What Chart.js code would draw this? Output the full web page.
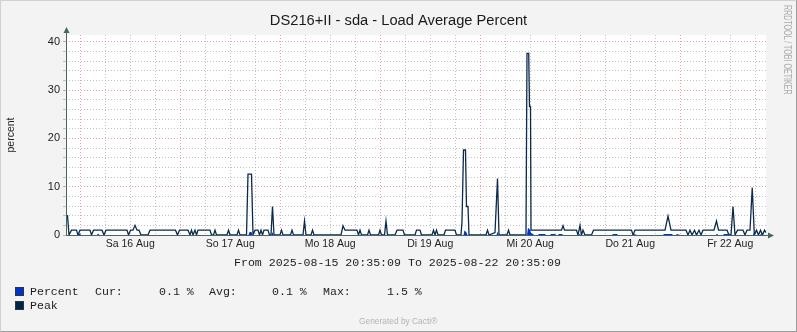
<!DOCTYPE html>
<html lang="de">
<head>
<meta charset="UTF-8">
<title>DS216+II - sda - Load Average Percent</title>
<script src="https://cdn.jsdelivr.net/npm/chart.js@4.4.7/dist/chart.umd.min.js"></script>
<style>
  * { margin: 0; padding: 0; box-sizing: border-box; }
  body { background: #f3f3f3; width: 797px; height: 332px; overflow: hidden; font-family: 'Liberation Sans', Arial, sans-serif; }
  .wrap { position: relative; width: 797px; height: 332px; }
  canvas { position: absolute; left: 0; top: 0; }
  .frame {
    position: absolute; left: 0; top: 0; width: 797px; height: 332px;
    border: 1px solid #d2d2d2; border-right-color: #9c9c9c; border-bottom-color: #9c9c9c;
    pointer-events: none;
  }
  .mono { position: absolute; font-family: 'Liberation Mono', 'DejaVu Sans Mono', monospace; font-size: 11.6px; line-height: 12px; color: #1e1e1e; white-space: pre; }
  .sq { position: absolute; width: 9px; height: 9px; border: 1px solid #30343c; }
  .credit { position: absolute; left: 359px; top: 316px; font-size: 8.4px; color: #b4b4b4; white-space: nowrap; }
  .rrd {
    position: absolute; left: 782px; top: 5px; writing-mode: vertical-rl;
    font-size: 10px; line-height: 10px; color: #ababab; white-space: nowrap;
    transform: scale(1, 0.71); transform-origin: top left;
  }
</style>
</head>
<body>
<div class="wrap">
  <canvas id="chart" width="797" height="332"></canvas>

  <div class="mono" style="left:234px; top:257px;" id="range"></div>

  <div class="sq" style="left:15px; top:287px; background:#0033cc;"></div>
  <div class="mono" style="left:30px; top:286px;">Percent</div>
  <div class="mono" style="left:95px; top:286px;">Cur:</div>
  <div class="mono" style="left:159px; top:286px;" id="cur"></div>
  <div class="mono" style="left:209px; top:286px;">Avg:</div>
  <div class="mono" style="left:272px; top:286px;" id="avg"></div>
  <div class="mono" style="left:323px; top:286px;">Max:</div>
  <div class="mono" style="left:387px; top:286px;" id="max"></div>

  <div class="sq" style="left:15px; top:301px; background:#002548;"></div>
  <div class="mono" style="left:30px; top:300px;">Peak</div>

  <div class="credit">Generated by Cacti®</div>
  <div class="rrd">RRDTOOL / TOBI OETIKER</div>
  <div class="frame"></div>
</div>

<script>
  // time axis: hours since 2025-08-15 20:35:09
  const rangeText = 'From 2025-08-15 20:35:09 To 2025-08-22 20:35:09';
  const spanHours = 168;
  const firstMidnight = 3 + 24 / 60 + 51 / 3600;
  const dayLabels = ['Sa 16 Aug', 'So 17 Aug', 'Mo 18 Aug', 'Di 19 Aug', 'Mi 20 Aug', 'Do 21 Aug', 'Fr 22 Aug'];
  const yLabels = [0, 10, 20, 30, 40];

  const legendStats = { cur: '0.1 %', avg: '0.1 %', max: '1.5 %' };

  const peakHours = [
    0, 0.36, 0.72, 1.32, 2.52, 2.88, 3.36, 5.76, 6.12, 6.6, 8.64, 9.12, 9.6,
    14.64, 15.0, 15.48, 16.08, 16.56, 17.04, 17.52, 18.0, 19.68, 20.16,
    26.28, 26.76, 27.24, 29.28, 29.76, 30.12, 30.48, 30.96, 31.32, 31.68,
    34.56, 34.92, 35.4, 35.76, 36.12, 38.64, 39.0, 39.36, 41.04, 41.4, 41.76,
    43.32, 43.68, 44.52, 44.88, 45.36, 46.08, 46.44, 46.8, 47.16, 47.52, 48.48, 48.84,
    49.2, 49.56, 49.92, 51.36, 51.72, 52.08, 53.88, 54.24, 54.6,
    56.88, 57.24, 57.6, 58.8, 59.16, 59.52,
    66.0, 66.48, 66.96, 69.84, 70.2, 70.56, 70.92, 72.36, 72.72, 73.08,
    75.0, 75.36, 75.72, 76.44, 76.8, 77.16, 78.96, 79.44, 80.88, 81.24,
    83.76, 84.12, 84.96, 85.32, 87.84, 88.2, 88.56, 88.92, 89.28,
    90.72, 91.08, 93.36, 93.72, 94.8, 95.04, 95.4, 95.88, 96.12, 96.48, 96.72,
    100.8, 101.16, 101.52, 102.96, 103.56, 103.92, 105.84, 106.2, 106.56,
    110.4, 110.64, 111.05, 111.24, 111.48, 111.6,
    118.92, 119.28, 119.64, 122.52, 122.88, 123.36, 123.72, 124.08, 124.56,
    126.12, 126.6, 135.72, 136.08, 136.56, 143.76, 144.48, 145.2,
    148.8, 149.28, 149.76, 150.24, 150.84, 151.32, 151.92, 152.4, 152.88,
    155.52, 156.12, 156.6, 158.64, 159.12, 159.6, 160.08, 160.56, 161.16,
    162.48, 162.96, 163.44, 164.16, 164.7, 165.2, 165.72, 166.2, 166.68, 167.16, 167.64, 168
  ];
  const peakValues = [
    4, 4, 0, 1, 1, 0, 1, 1, 0, 1, 1, 0, 1,
    1, 0, 1, 1, 2, 1, 1, 0, 0, 1,
    1, 0, 1, 1, 0, 1, 0, 1, 0, 1,
    1, 0, 0, 1, 0, 0, 1, 0, 0, 1, 0,
    0, 12.6, 12.6, 0, 1, 1, 0, 1, 0, 1, 1, 0,
    0, 5.9, 0, 0, 1, 0, 0, 1, 0,
    0, 2.9, 0, 0, 1, 0,
    0, 1.9, 1, 1, 0, 1, 0, 0, 1, 0,
    0, 1, 0, 0, 2.9, 0, 0, 1, 1, 0,
    0, 1, 1, 0, 0, 1, 0, 1, 0,
    0, 1, 1, 0, 0, 2.8, 17.6, 17.6, 5.9, 5.9, 0,
    0, 1, 0, 0.5, 11.7, 0, 0, 1, 0,
    0, 37.6, 37.6, 26.6, 26.6, 1,
    1, 1.9, 1, 1, 0, 2, 0, 1, 0,
    0, 1, 1, 0, 1, 1, 3.9, 1,
    1, 0, 1, 0, 1, 0, 1, 0, 1,
    1, 2.9, 1, 1, 0, 0, 5.9, 0, 1,
    1, 0, 1, 1, 9.8, 0, 1, 0, 1, 0, 1, 0.5
  ];

  const pctHours = [
    0, 0.24, 2.64, 2.88, 3.36, 3.6, 7.44, 7.68, 8.04,
    43.8, 44.04, 44.52, 44.76, 49.32, 49.56, 49.8,
    95.4, 95.64, 96.12, 96.36, 103.32, 103.56, 103.8,
    110.64, 110.88, 111.36, 111.6, 112.08, 112.32,
    113.28, 113.52, 114.96, 115.2, 116.16, 116.4, 117.36, 117.6,
    118.08, 118.32, 119.04, 119.28, 122.88, 123.12, 123.6,
    131.04, 131.28, 132.24, 132.48, 136.08, 136.32, 137.04,
    143.28, 143.52, 145.44, 145.68, 146.4, 146.64, 147.36,
    156.0, 156.24, 156.48, 157.68, 157.92, 159.36, 159.6,
    164.88, 165.12, 165.36, 166.56, 166.8, 167.28, 168
  ];
  const pctValues = [
    0.3, 0, 0, 0.3, 0.3, 0, 0, 0.3, 0,
    0, 0.6, 0.6, 0, 0, 0.6, 0,
    0, 1.0, 0.5, 0, 0, 0.7, 0,
    0, 1.5, 1.1, 0.4, 0.2, 0,
    0, 0.2, 0.2, 0, 0, 0.2, 0.2, 0,
    0, 0.2, 0.2, 0, 0, 0.2, 0,
    0, 0.2, 0.2, 0, 0, 0.2, 0,
    0, 0.2, 0.2, 0, 0, 0.2, 0,
    0, 0.3, 0, 0, 0.2, 0.2, 0,
    0, 0.5, 0, 0, 0.2, 0, 0
  ];

  document.getElementById('range').textContent = rangeText;
  document.getElementById('cur').textContent = legendStats.cur;
  document.getElementById('avg').textContent = legendStats.avg;
  document.getElementById('max').textContent = legendStats.max;

  const toPoints = (xs, ys) => xs.map((x, i) => ({ x: x, y: ys[i] }));

  const gridRed = 'rgba(228, 120, 120, 0.7)';
  const gridGrey = 'rgba(170, 170, 170, 0.7)';
  const axisColor = '#476565';
  const isMidnight = v => Math.round((v - firstMidnight) / 6) % 4 === 0;

  // backgrounds + axis lines with arrows, like rrdtool draws them
  const rrdFrame = {
    id: 'rrdFrame',
    beforeDraw(chart) {
      const { ctx, chartArea: a } = chart;
      ctx.save();
      ctx.fillStyle = '#f3f3f3';
      ctx.fillRect(0, 0, chart.width, chart.height);
      ctx.fillStyle = '#ffffff';
      ctx.fillRect(a.left, a.top, a.right - a.left, a.bottom - a.top);
      ctx.restore();
    },
    afterDraw(chart) {
      const { ctx, chartArea: a } = chart;
      const x0 = Math.round(a.left) + 0.5;
      const y0 = Math.round(a.bottom) + 0.5;
      ctx.save();
      ctx.strokeStyle = axisColor;
      ctx.fillStyle = axisColor;
      ctx.lineWidth = 1;
      ctx.beginPath();
      ctx.moveTo(x0, y0);
      ctx.lineTo(x0, a.top - 3);
      ctx.moveTo(x0, y0);
      ctx.lineTo(a.right + 3, y0);
      ctx.stroke();
      ctx.beginPath();
      ctx.moveTo(x0 - 3, a.top - 2);
      ctx.lineTo(x0 + 3, a.top - 2);
      ctx.lineTo(x0, a.top - 8);
      ctx.closePath();
      ctx.fill();
      ctx.beginPath();
      ctx.moveTo(a.right + 2, y0 - 3);
      ctx.lineTo(a.right + 2, y0 + 3);
      ctx.lineTo(a.right + 8, y0);
      ctx.closePath();
      ctx.fill();
      ctx.restore();
    }
  };

  new Chart(document.getElementById('chart'), {
    type: 'line',
    data: {
      datasets: [
        {
          label: 'Percent',
          data: toPoints(pctHours, pctValues),
          borderColor: 'rgba(0,0,0,0)',
          borderWidth: 0,
          backgroundColor: '#0033cc',
          fill: 'origin',
          pointRadius: 0,
          tension: 0
        },
        {
          label: 'Peak',
          data: toPoints(peakHours, peakValues),
          borderColor: '#0b2a4c',
          borderWidth: 1.3,
          fill: false,
          pointRadius: 0,
          tension: 0
        }
      ]
    },
    options: {
      responsive: false,
      animation: false,
      devicePixelRatio: 1,
      layout: { padding: 0 },
      plugins: {
        legend: { display: false },
        tooltip: { enabled: false },
        title: {
          display: true,
          text: 'DS216+II - sda - Load Average Percent',
          color: '#1a1a1a',
          font: { family: "'Liberation Sans', Arial, sans-serif", size: 14.7, weight: 'normal', lineHeight: 1.2 },
          padding: { top: 12, bottom: 5.36 }
        }
      },
      scales: {
        x: {
          type: 'linear',
          min: 0,
          max: spanHours,
          afterBuildTicks(scale) {
            const t = [];
            for (let h = firstMidnight; h <= spanHours; h += 6) t.push({ value: h });
            scale.ticks = t;
          },
          afterFit(scale) { scale.height = 97; },
          ticks: {
            autoSkip: false,
            maxRotation: 0,
            padding: 3,
            color: '#1e1e1e',
            font: { family: "'Liberation Sans', Arial, sans-serif", size: 10.5 },
            callback: (v, i) => (i % 4 === 2 ? dayLabels[(i - 2) / 4] : '')
          },
          grid: {
            drawTicks: false,
            color: ctx => (ctx.tick && isMidnight(ctx.tick.value) ? gridRed : gridGrey)
          },
          border: { display: false, dash: [1, 2] }
        },
        y: {
          min: 0,
          max: 41.4,
          afterBuildTicks(scale) {
            const t = [];
            for (let v = 0; v <= 40; v += 2) t.push({ value: v });
            scale.ticks = t;
          },
          afterFit(scale) { scale.width = 66; },
          title: {
            display: true,
            text: 'percent',
            color: '#1e1e1e',
            font: { family: "'Liberation Sans', Arial, sans-serif", size: 10.5 },
            padding: { top: 5, bottom: 0 }
          },
          ticks: {
            autoSkip: false,
            padding: 3,
            color: '#1e1e1e',
            font: { family: "'Liberation Sans', Arial, sans-serif", size: 11 },
            callback: v => (yLabels.includes(v) ? String(v) : '')
          },
          grid: {
            drawTicks: true,
            tickLength: 3,
            color: ctx => (ctx.tick && ctx.tick.value % 10 === 0 ? gridRed : gridGrey),
            tickColor: ctx => (ctx.tick && ctx.tick.value % 10 === 0 ? gridRed : gridGrey)
          },
          border: { display: false, dash: [1, 2] }
        },
        // empty right-hand axis only reserves the margin rrdtool leaves there
        yRight: {
          position: 'right',
          min: 0,
          max: 41.4,
          afterFit(scale) { scale.width = 31; },
          ticks: { display: false },
          grid: { display: false, drawOnChartArea: false },
          border: { display: false }
        }
      }
    },
    plugins: [rrdFrame]
  });
</script>
</body>
</html>
